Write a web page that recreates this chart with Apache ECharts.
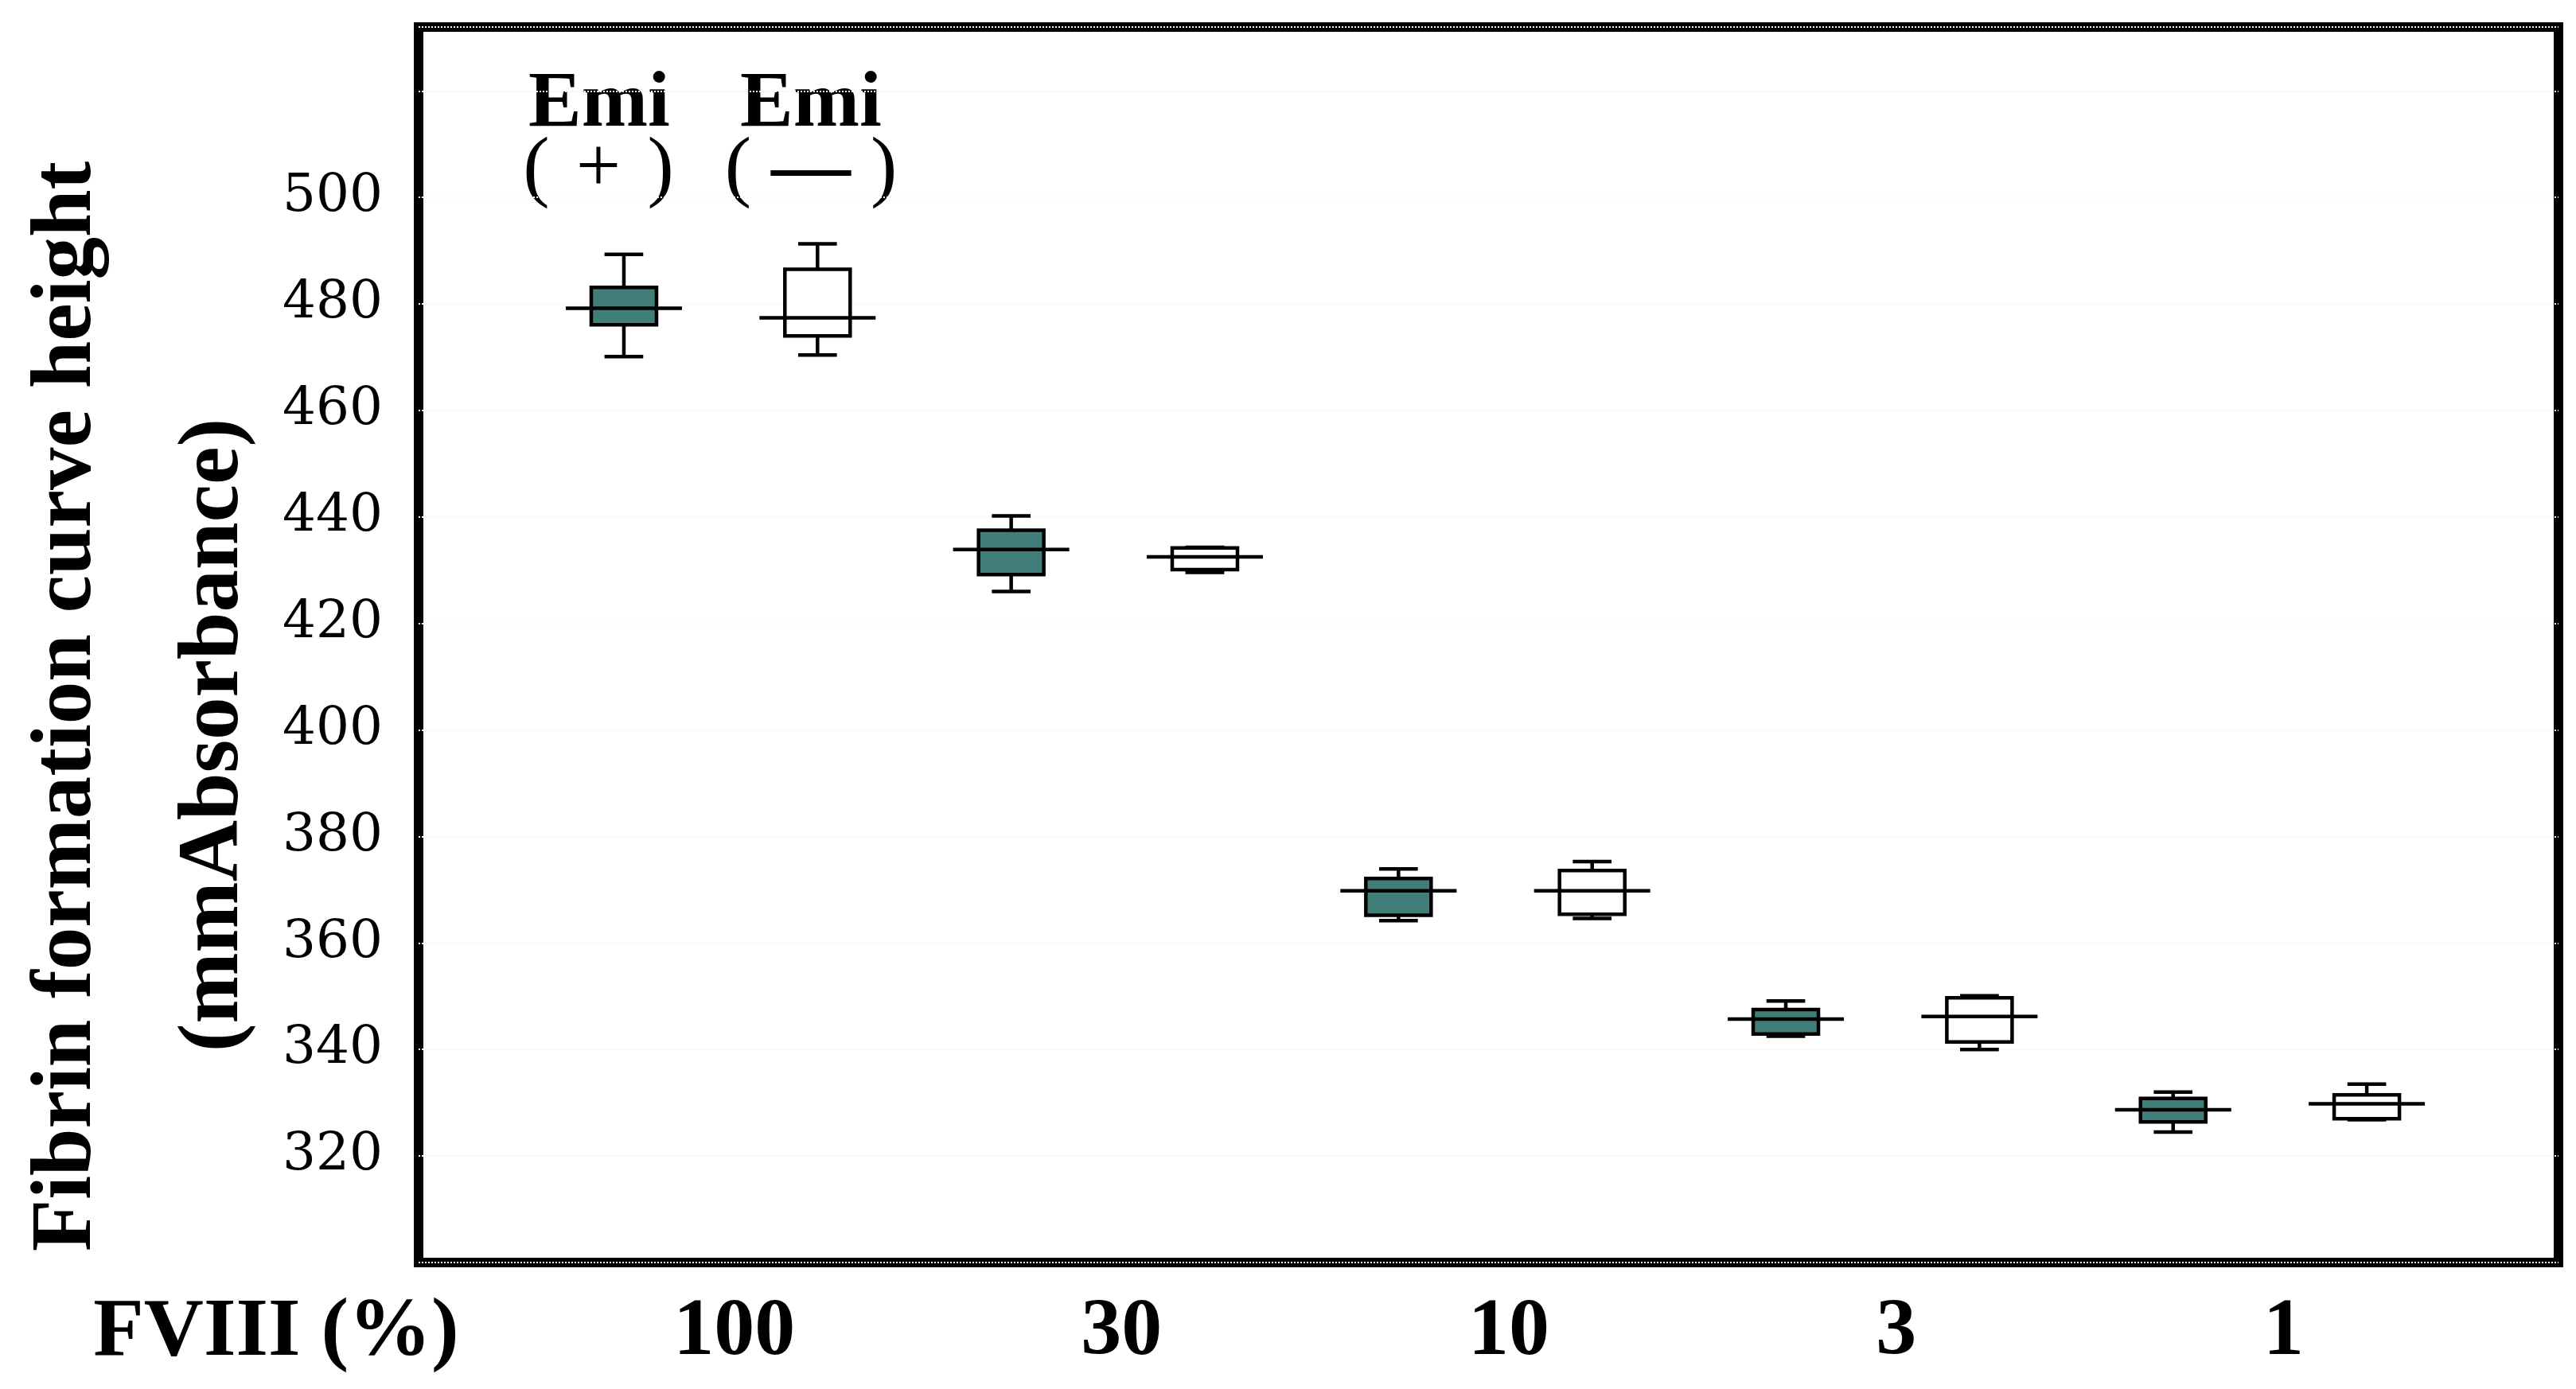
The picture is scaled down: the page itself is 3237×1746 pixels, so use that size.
<!DOCTYPE html>
<html>
<head>
<meta charset="utf-8">
<script src="https://cdn.jsdelivr.net/npm/echarts@6.0.0/dist/echarts.min.js"></script>
<style>
html,body{margin:0;padding:0;background:#fff;}
#chart{width:3237px;height:1746px;}
</style>
</head>
<body>
<div id="chart"></div>
<script>
// FVIII (%) categories
const categories = ['100', '30', '10', '3', '1'];
// y tick labels shown
const yTicks = [320, 340, 360, 380, 400, 420, 440, 460, 480, 500];
// box stats per category: [min, Q1, median, Q3, max]
const emiPlus = [
  [470.1, 476.1, 479.2, 483.1, 489.3],
  [426.0, 429.2, 433.9, 437.5, 440.2],
  [364.2, 365.2, 369.8, 372.1, 373.9],
  [342.5, 342.9, 345.7, 347.5, 349.1],
  [324.5, 326.4, 328.7, 330.8, 332.0]
];
const emiMinus = [
  [470.4, 474.0, 477.4, 486.5, 491.3],
  [429.6, 430.1, 432.5, 434.2, 434.3],
  [364.6, 365.4, 369.8, 373.6, 375.3],
  [340.0, 341.4, 346.2, 349.7, 350.1],
  [326.8, 327.0, 329.8, 331.5, 333.5]
];

const SERIF = "'Liberation Serif', 'Times New Roman', serif";

function makeRender(fill) {
  return function (params, api) {
    const x = api.value(0);
    const pMin = api.coord([x, api.value(1)]);
    const pQ1 = api.coord([x, api.value(2)]);
    const pMed = api.coord([x, api.value(3)]);
    const pQ3 = api.coord([x, api.value(4)]);
    const pMax = api.coord([x, api.value(5)]);
    const unit = api.size([1, 0])[0];
    const cx = pMed[0];
    const bw = unit * 0.337, mw = unit * 0.6, cw = unit * 0.2;
    const ls = { stroke: '#000', lineWidth: 4.5 };
    return {
      type: 'group',
      children: [
        { type: 'line', shape: { x1: cx, y1: pMax[1], x2: cx, y2: pQ3[1] }, style: ls },
        { type: 'line', shape: { x1: cx, y1: pQ1[1], x2: cx, y2: pMin[1] }, style: ls },
        { type: 'line', shape: { x1: cx - cw / 2, y1: pMax[1], x2: cx + cw / 2, y2: pMax[1] }, style: ls },
        { type: 'line', shape: { x1: cx - cw / 2, y1: pMin[1], x2: cx + cw / 2, y2: pMin[1] }, style: ls },
        { type: 'rect', shape: { x: cx - bw / 2, y: pQ3[1], width: bw, height: pQ1[1] - pQ3[1] },
          style: { fill: fill, stroke: '#000', lineWidth: 4.5 } },
        { type: 'line', shape: { x1: cx - mw / 2, y1: pMed[1], x2: cx + mw / 2, y2: pMed[1] }, style: ls }
      ]
    };
  };
}

const chart = echarts.init(document.getElementById('chart'), null, { renderer: 'canvas' });
chart.setOption({
  animation: false,
  backgroundColor: '#fff',
  grid: {
    left: 526, right: 22, top: 34, bottom: 159,
    show: true, borderColor: '#000', borderWidth: 12, backgroundColor: 'transparent'
  },
  xAxis: {
    type: 'value', min: -0.06, max: 10.99,
    axisLine: { show: false }, axisTick: { show: false }, splitLine: { show: false },
    axisLabel: {
      customValues: categories.map((c, i) => 2 * i + 1.57),
      formatter: v => categories[Math.round((v - 1.57) / 2)],
      margin: 38, color: '#000', fontFamily: SERIF, fontWeight: 'bold', fontSize: 102
    }
  },
  yAxis: {
    type: 'value', min: 300, max: 532, interval: 20,
    axisLine: { show: false }, axisTick: { show: false },
    splitLine: { show: true, lineStyle: { color: '#f5f5f5', width: 2, type: 'dotted' } },
    axisLabel: {
      margin: 45, color: '#000', fontFamily: "'DejaVu Serif', serif", fontSize: 66,
      formatter: v => (yTicks.indexOf(v) >= 0 ? String(v) : '')
    }
  },
  graphic: [
    { type: 'text', x: 85, y: 888, rotation: Math.PI / 2,
      style: { text: 'Fibrin formation curve height', fill: '#000', font: "bold 107px " + SERIF,
               textAlign: 'center', textVerticalAlign: 'middle' } },
    { type: 'text', x: 270, y: 924, rotation: Math.PI / 2,
      style: { text: '(mmAbsorbance)', fill: '#000', font: "bold 107px " + SERIF,
               textAlign: 'center', textVerticalAlign: 'middle' } },
    { type: 'text', x: 347, y: 1676,
      style: { text: 'FVIII (%)', fill: '#000', font: "bold 104px " + SERIF,
               textAlign: 'center', textVerticalAlign: 'middle' } },
    { type: 'text', x: 753, y: 132,
      style: { text: 'Emi', fill: '#000', font: "bold 100px " + SERIF, textAlign: 'center', textVerticalAlign: 'middle' } },
    { type: 'text', x: 1019, y: 132,
      style: { text: 'Emi', fill: '#000', font: "bold 100px " + SERIF, textAlign: 'center', textVerticalAlign: 'middle' } },
    { type: 'text', x: 752, y: 215,
      style: { text: '(\u2004+\u2004)', fill: '#000', font: "100px " + SERIF, textAlign: 'center', textVerticalAlign: 'middle' } },
    { type: 'text', x: 1019, y: 215,
      style: {
        text: '{p|( }{d|\u2014}{p| )}', textAlign: 'center', textVerticalAlign: 'middle',
        rich: {
          p: { fill: '#000', fontFamily: SERIF, fontSize: 100 },
          d: { fill: '#000', fontFamily: SERIF, fontSize: 100, fontWeight: 'bold' }
        }
      } }
  ],
  series: [
    {
      name: 'Emi (+)', type: 'custom', renderItem: makeRender('#417e7a'),
      encode: { x: 0, y: [1, 2, 3, 4, 5] },
      data: emiPlus.map((d, i) => [2 * i + 1].concat(d))
    },
    {
      name: 'Emi (-)', type: 'custom', renderItem: makeRender('#ffffff'),
      encode: { x: 0, y: [1, 2, 3, 4, 5] },
      data: emiMinus.map((d, i) => [2 * i + 2].concat(d))
    }
  ]
});
</script>
</body>
</html>
